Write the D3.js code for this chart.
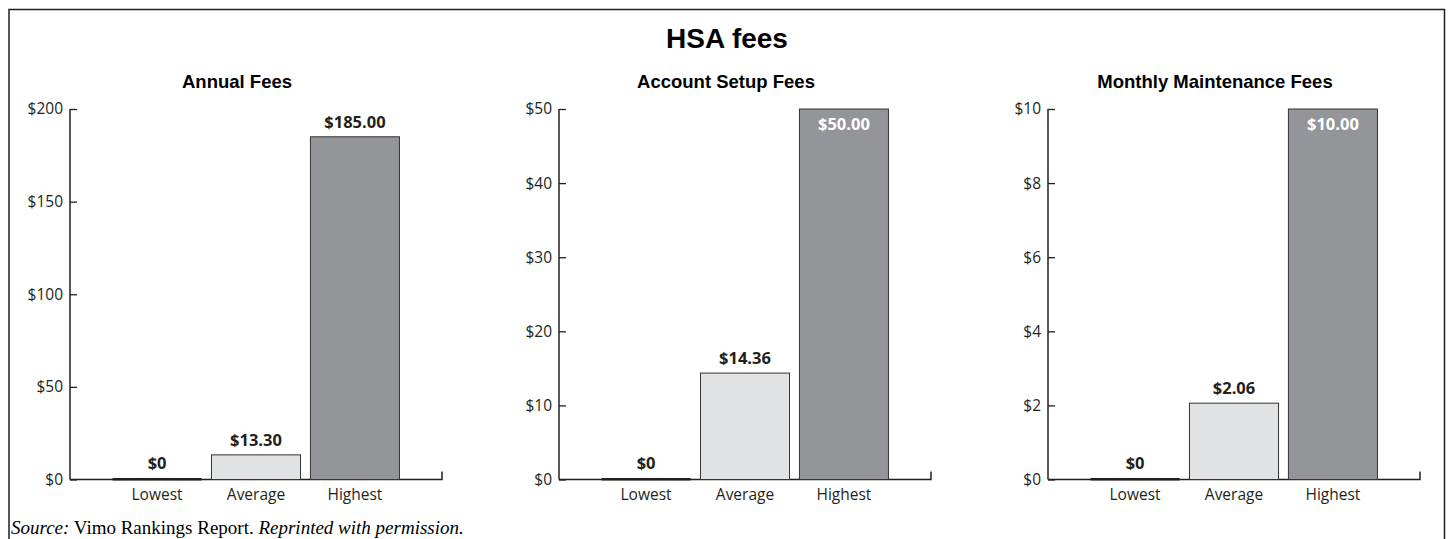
<!DOCTYPE html>
<html>
<head>
<meta charset="utf-8">
<script src="https://cdn.jsdelivr.net/npm/d3@7"></script>
<style>
  body { margin: 0; background: #fff; }
  svg { display: block; }
</style>
</head>
<body>
<svg id="chart" width="1450" height="539"></svg>
<script>
var categories = ['Lowest', 'Average', 'Highest'];
var panelTitles = ['Annual Fees', 'Account Setup Fees', 'Monthly Maintenance Fees'];
var annualFees = [0, 13.30, 185.00];
var setupFees = [0, 14.36, 50.00];
var monthlyFees = [0, 2.06, 10.00];
var yMax = [200, 50, 10];
var yTicks = [[0, 50, 100, 150, 200], [0, 10, 20, 30, 40, 50], [0, 2, 4, 6, 8, 10]];
var valueLabels = [['$0', '$13.30', '$185.00'], ['$0', '$14.36', '$50.00'], ['$0', '$2.06', '$10.00']];

var series = [annualFees, setupFees, monthlyFees];
var fills = { Lowest: '#231f20', Average: '#e1e2e4', Highest: '#939598' };
var ink = '#231f20';
var sansFont = '"Open Sans", "Noto Sans", sans-serif';

var svg = d3.select('#chart');

// outer frame, open at the bottom
svg.append('path')
  .attr('d', 'M9,539 V9.5 H1444.5 V539')
  .attr('fill', 'none')
  .attr('stroke', ink)
  .attr('stroke-width', 1.5);

svg.append('text')
  .attr('x', 727).attr('y', 48)
  .attr('text-anchor', 'middle')
  .attr('font-family', 'Liberation Sans, Arial, sans-serif')
  .attr('font-weight', 'bold')
  .attr('font-size', 28)
  .attr('fill', '#000')
  .text('HSA fees');

var plotTop = 109, plotBottom = 479.5;

series.forEach(function(values, p) {
  var x0 = 70 + p * 489;
  var g = svg.append('g');

  var x = d3.scaleBand().domain(categories).range([x0, x0 + 372])
    .paddingInner(0.1).paddingOuter(0.43);
  var y = d3.scaleLinear().domain([0, yMax[p]]).range([plotBottom, plotTop]);

  g.append('text')
    .attr('x', x0 + 167).attr('y', 88)
    .attr('text-anchor', 'middle')
    .attr('font-family', 'Liberation Sans, Arial, sans-serif')
    .attr('font-weight', 'bold')
    .attr('font-size', 18.5)
    .attr('fill', '#000')
    .text(panelTitles[p]);

  // y axis, ticks pointing inward
  var yAxis = g.append('g')
    .attr('transform', 'translate(' + x0 + ',0)')
    .call(d3.axisRight(y).tickValues(yTicks[p]).tickSize(7).tickFormat(function(d) { return '$' + d; }));
  yAxis.select('.domain').remove();
  yAxis.selectAll('.tick line').attr('stroke', ink).attr('stroke-width', 1.3);
  yAxis.selectAll('.tick text')
    .attr('x', -7)
    .attr('text-anchor', 'end')
    .attr('font-family', sansFont)
    .attr('font-size', 15.5)
    .attr('fill', ink);

  g.append('line')
    .attr('x1', x0).attr('x2', x0)
    .attr('y1', plotTop).attr('y2', plotBottom)
    .attr('stroke', ink).attr('stroke-width', 1.5);

  // baseline with end tick
  g.append('path')
    .attr('d', 'M' + x0 + ',' + plotBottom + ' H' + (x0 + 372) + ' V' + (plotBottom - 8))
    .attr('fill', 'none')
    .attr('stroke', ink).attr('stroke-width', 1.5);

  var data = categories.map(function(c, i) { return { cat: c, value: values[i], label: valueLabels[p][i] }; });

  g.selectAll('rect.bar').data(data).enter().append('rect')
    .attr('class', 'bar')
    .attr('x', function(d) { return x(d.cat); })
    .attr('width', x.bandwidth())
    .attr('y', function(d) { return d.value === 0 ? plotBottom - 1.5 : y(d.value); })
    .attr('height', function(d) { return d.value === 0 ? 2.5 : plotBottom - y(d.value); })
    .attr('fill', function(d) { return fills[d.cat]; })
    .attr('stroke', function(d) { return d.value === 0 ? 'none' : '#333'; })
    .attr('stroke-width', 1);

  g.selectAll('text.val').data(data).enter().append('text')
    .attr('class', 'val')
    .attr('x', function(d) { return x(d.cat) + x.bandwidth() / 2; })
    .attr('y', function(d) {
      if (d.value === yMax[p]) return y(d.value) + 21;
      return y(d.value) - (d.value === 0 ? 11 : 9);
    })
    .attr('text-anchor', 'middle')
    .attr('font-family', sansFont)
    .attr('font-weight', 'bold')
    .attr('font-size', 16.5)
    .attr('fill', function(d) { return d.value === yMax[p] ? '#fff' : ink; })
    .text(function(d) { return d.label; });

  g.selectAll('text.cat').data(categories).enter().append('text')
    .attr('class', 'cat')
    .attr('x', function(d) { return x(d) + x.bandwidth() / 2; })
    .attr('y', 500)
    .attr('text-anchor', 'middle')
    .attr('font-family', sansFont)
    .attr('font-size', 15.5)
    .attr('fill', ink)
    .text(function(d) { return d; });
});

var source = svg.append('text')
  .attr('x', 11).attr('y', 534)
  .attr('font-family', '"Liberation Serif", "Times New Roman", serif')
  .attr('font-size', 19)
  .attr('fill', '#000');
source.append('tspan').attr('font-style', 'italic').text('Source:');
source.append('tspan').text(' Vimo Rankings Report. ');
source.append('tspan').attr('font-style', 'italic').text('Reprinted with permission.');
</script>
</body>
</html>
